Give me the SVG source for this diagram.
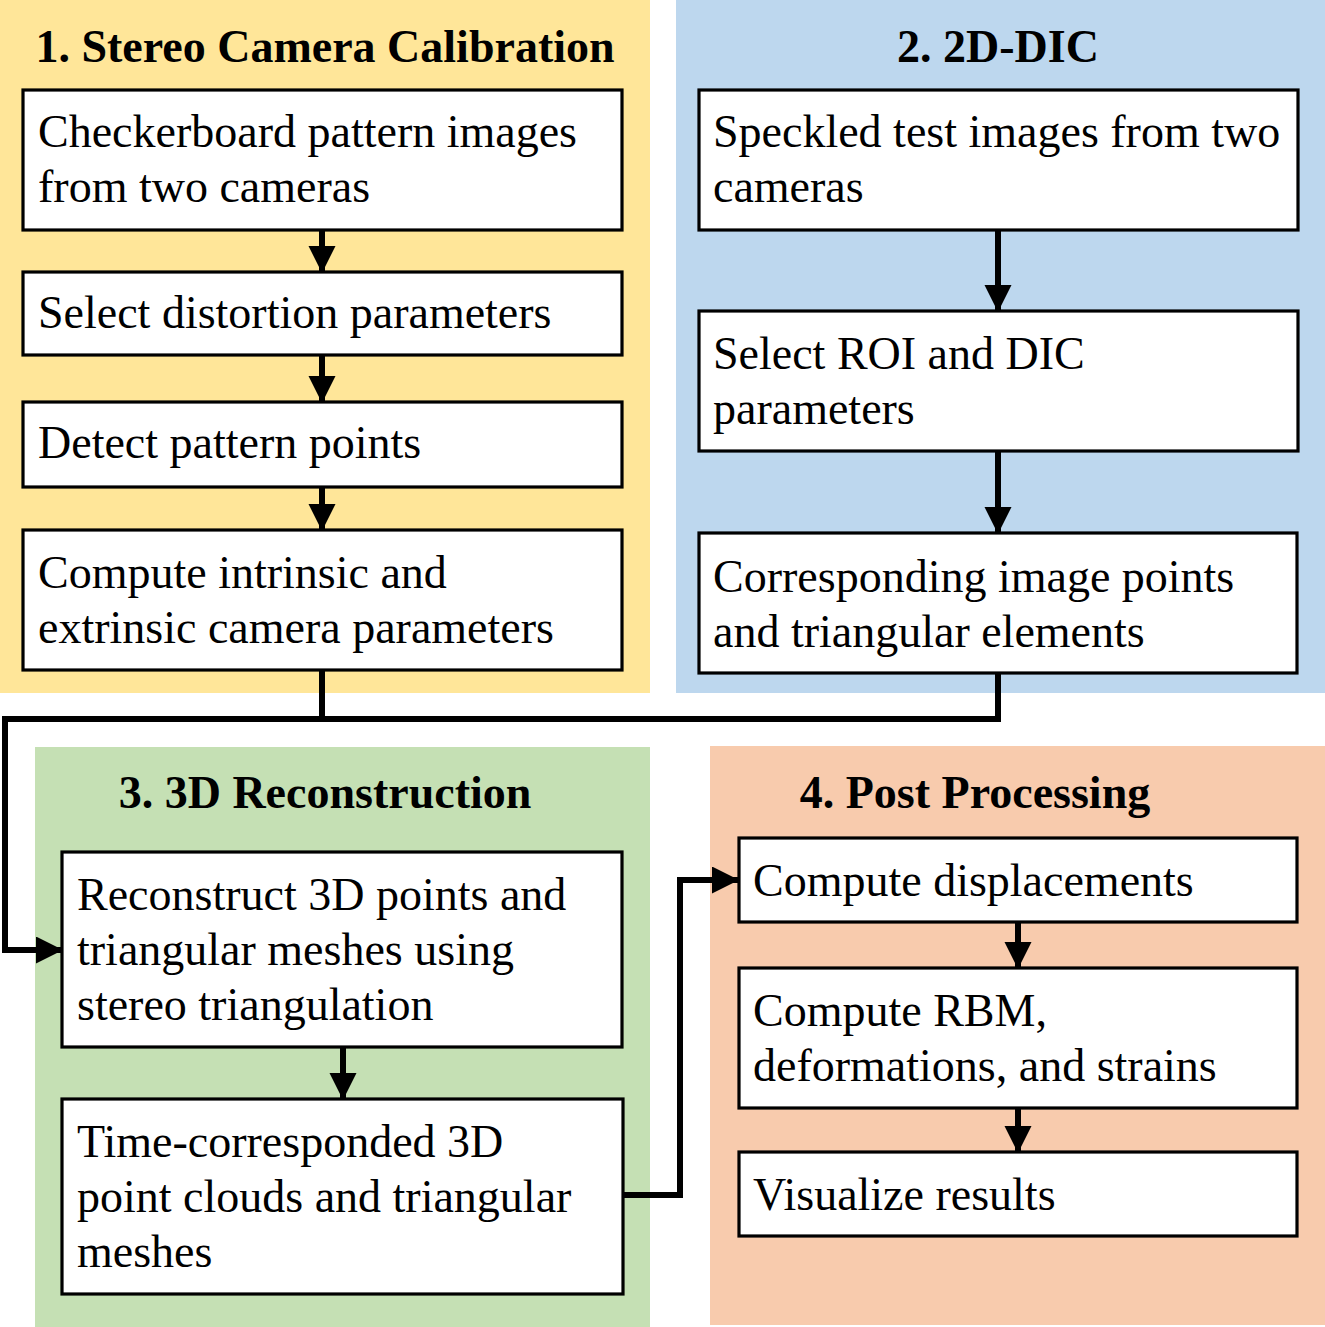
<svg xmlns="http://www.w3.org/2000/svg" width="1325" height="1327" viewBox="0 0 1325 1327">
<style>
.box{fill:#fff;stroke:#000;stroke-width:3.2}
.t{font-family:"Liberation Serif","Times New Roman",serif;font-size:46px;fill:#000}
.h{font-family:"Liberation Serif","Times New Roman",serif;font-size:46px;font-weight:bold;fill:#000;text-anchor:middle}
.c{fill:none;stroke:#000;stroke-width:6}
</style>
<defs>
<marker id="ah" markerUnits="userSpaceOnUse" markerWidth="28" markerHeight="28" refX="26" refY="13.5" orient="auto">
<path d="M0,0 L27,13.5 L0,27 Z" fill="#000"/>
</marker>
</defs>
<rect width="1325" height="1327" fill="#fff"/>
<g id="panel1">
<rect x="0" y="0" width="650" height="693" fill="#FFE699"/>
<text class="h" x="325" y="62">1. Stereo Camera Calibration</text>
</g>
<g id="panel2">
<rect x="676" y="0" width="649" height="693" fill="#BDD7EE"/>
<text class="h" x="998" y="62">2. 2D-DIC</text>
</g>
<g id="panel3">
<rect x="35" y="747" width="615" height="580" fill="#C5E0B4"/>
<text class="h" x="325" y="808">3. 3D Reconstruction</text>
</g>
<g id="panel4">
<rect x="710" y="746" width="615" height="579" fill="#F8CBAD"/>
<text class="h" x="975" y="808">4. Post Processing</text>
</g>
<g id="connectors">
<line class="c" x1="322" y1="230" x2="322" y2="272" marker-end="url(#ah)"/>
<line class="c" x1="322" y1="355" x2="322" y2="402" marker-end="url(#ah)"/>
<line class="c" x1="322" y1="487" x2="322" y2="530" marker-end="url(#ah)"/>
<line class="c" x1="998" y1="230" x2="998" y2="311" marker-end="url(#ah)"/>
<line class="c" x1="998" y1="451" x2="998" y2="533" marker-end="url(#ah)"/>
<polyline class="c" points="322,670 322,719"/>
<polyline class="c" points="998,673 998,719 5,719 5,950 62,950" marker-end="url(#ah)"/>
<line class="c" x1="343" y1="1047" x2="343" y2="1099" marker-end="url(#ah)"/>
<polyline class="c" points="623,1195 680,1195 680,880 738,880" marker-end="url(#ah)"/>
<line class="c" x1="1018" y1="922" x2="1018" y2="968" marker-end="url(#ah)"/>
<line class="c" x1="1018" y1="1108" x2="1018" y2="1152" marker-end="url(#ah)"/>
</g>
<g id="n1">
<rect class="box" x="23" y="90" width="599" height="140"/>
<text class="t" x="38" y="147">Checkerboard pattern images</text>
<text class="t" x="38" y="202">from two cameras</text>
</g>
<g id="n2">
<rect class="box" x="23" y="272" width="599" height="83"/>
<text class="t" x="38" y="328">Select distortion parameters</text>
</g>
<g id="n3">
<rect class="box" x="23" y="402" width="599" height="85"/>
<text class="t" x="38" y="458">Detect pattern points</text>
</g>
<g id="n4">
<rect class="box" x="23" y="530" width="599" height="140"/>
<text class="t" x="38" y="588">Compute intrinsic and</text>
<text class="t" x="38" y="643">extrinsic camera parameters</text>
</g>
<g id="n5">
<rect class="box" x="699" y="90" width="599" height="140"/>
<text class="t" x="713" y="147">Speckled test images from two</text>
<text class="t" x="713" y="202">cameras</text>
</g>
<g id="n6">
<rect class="box" x="699" y="311" width="599" height="140"/>
<text class="t" x="713" y="369">Select ROI and DIC</text>
<text class="t" x="713" y="424">parameters</text>
</g>
<g id="n7">
<rect class="box" x="699" y="533" width="598" height="140"/>
<text class="t" x="713" y="592">Corresponding image points</text>
<text class="t" x="713" y="647">and triangular elements</text>
</g>
<g id="n8">
<rect class="box" x="62" y="852" width="560" height="195"/>
<text class="t" x="77" y="910">Reconstruct 3D points and</text>
<text class="t" x="77" y="965">triangular meshes using</text>
<text class="t" x="77" y="1020">stereo triangulation</text>
</g>
<g id="n9">
<rect class="box" x="62" y="1099" width="561" height="195"/>
<text class="t" x="77" y="1157">Time-corresponded 3D</text>
<text class="t" x="77" y="1212">point clouds and triangular</text>
<text class="t" x="77" y="1267">meshes</text>
</g>
<g id="n10">
<rect class="box" x="739" y="838" width="558" height="84"/>
<text class="t" x="753" y="896">Compute displacements</text>
</g>
<g id="n11">
<rect class="box" x="739" y="968" width="558" height="140"/>
<text class="t" x="753" y="1026">Compute RBM,</text>
<text class="t" x="753" y="1081">deformations, and strains</text>
</g>
<g id="n12">
<rect class="box" x="739" y="1152" width="558" height="84"/>
<text class="t" x="753" y="1210">Visualize results</text>
</g>
</svg>
